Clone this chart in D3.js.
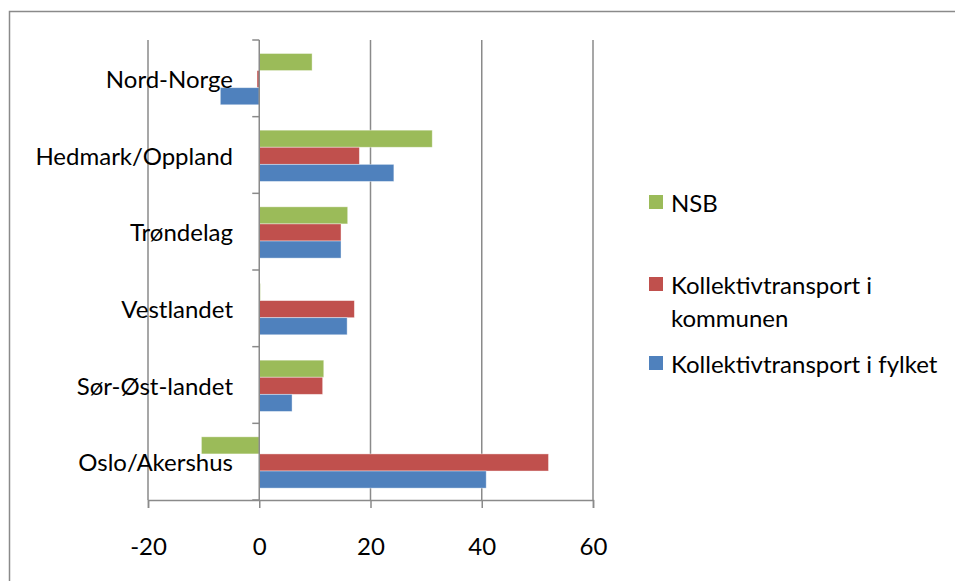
<!DOCTYPE html>
<html>
<head>
<meta charset="utf-8">
<script src="https://cdn.jsdelivr.net/npm/d3@7"></script>
<style>
  html, body { margin: 0; padding: 0; background: #fff; }
  svg { display: block; }
  text { font-family: Lato, "Open Sans", sans-serif; fill: #000; }
</style>
</head>
<body>
<svg id="chart" width="955" height="581"></svg>
<script>
const categories = ["Nord-Norge", "Hedmark/Oppland", "Trøndelag", "Vestlandet", "Sør-Øst-landet", "Oslo/Akershus"];
const seriesNames = ["NSB", "Kollektivtransport i kommunen", "Kollektivtransport i fylket"];
const nsb      = [9.5, 31.1, 15.9, 0.2, 11.6, -10.4];
const kommunen = [-0.4, 18.0, 14.7, 17.1, 11.4, 52.0];
const fylket   = [-7.0, 24.2, 14.7, 15.8, 5.9, 40.8];
const seriesValues = [nsb, kommunen, fylket];
const seriesColors = ["#9BBB59", "#C0504D", "#4F81BD"];
const xTicks = [-20, 0, 20, 40, 60];

const svg = d3.select("#chart");
const fontSize = 24;

// outer border (top/left visible)
svg.append("rect").attr("x", 9.5).attr("y", 11.5).attr("width", 960).attr("height", 590)
  .attr("fill", "none").attr("stroke", "#8a8a8a").attr("stroke-width", 1.5);

const plot = { left: 148, right: 593, top: 40, bottom: 500 };
const x = d3.scaleLinear().domain([-20, 60]).range([plot.left, plot.right]);
const y0 = d3.scaleBand().domain(categories).range([plot.top, plot.bottom]).padding(0);
const bw = y0.bandwidth();
const y1 = d3.scaleBand().domain(seriesNames).range([bw * 0.176, bw * 0.845]).padding(0);

// gridlines
svg.append("g").selectAll("line").data(xTicks.filter(t => t !== 0)).join("line")
  .attr("x1", d => x(d)).attr("x2", d => x(d))
  .attr("y1", plot.top).attr("y2", plot.bottom)
  .attr("stroke", "#8a8a8a").attr("stroke-width", 1.5);

// bars
const groups = svg.append("g").selectAll("g").data(categories).join("g")
  .attr("transform", c => `translate(0,${y0(c)})`);
groups.selectAll("rect").data((c, i) => seriesNames.map((s, j) => ({ s, v: seriesValues[j][i], color: seriesColors[j] })))
  .join("rect")
  .attr("x", d => x(Math.min(0, d.v)))
  .attr("width", d => Math.abs(x(d.v) - x(0)))
  .attr("y", d => y1(d.s))
  .attr("height", y1.bandwidth())
  .attr("fill", d => d.color)
  .attr("stroke", "rgba(255,255,255,0.5)").attr("stroke-width", 0.8);

// category axis at x=0
const yAxisG = svg.append("g").attr("transform", `translate(${x(0)},0)`);
yAxisG.append("line").attr("x1", 0).attr("x2", 0).attr("y1", plot.top).attr("y2", plot.bottom)
  .attr("stroke", "#8a8a8a").attr("stroke-width", 1.5);
const boundaries = categories.map(c => y0(c)).concat([plot.bottom]);
yAxisG.selectAll("line.tk").data(boundaries).join("line").attr("class", "tk")
  .attr("x1", -7).attr("x2", 0).attr("y1", d => d).attr("y2", d => d)
  .attr("stroke", "#8a8a8a").attr("stroke-width", 1.5);

// category labels
svg.append("g").selectAll("text").data(categories).join("text")
  .attr("x", 233).attr("y", c => y0(c) + bw / 2)
  .attr("text-anchor", "end").attr("dominant-baseline", "central")
  .style("font-size", fontSize + "px")
  .text(d => d);

// x axis
const xAxis = d3.axisBottom(x).tickValues(xTicks).tickSize(8).tickFormat(d => String(d));
const xg = svg.append("g").attr("transform", `translate(0,${plot.bottom})`).call(xAxis);
xg.select(".domain").attr("stroke", "#8a8a8a").attr("stroke-width", 1.5);
xg.selectAll(".tick line").attr("stroke", "#8a8a8a").attr("stroke-width", 1.5);
xg.selectAll(".tick text").attr("y", 45).attr("dy", "0").attr("dominant-baseline", "central")
  .style("font-size", fontSize + "px").style("font-family", "Lato, sans-serif").attr("fill", "#000");

// legend
const legendItems = [
  { lines: ["NSB"], color: seriesColors[0], y: 202 },
  { lines: ["Kollektivtransport i", "kommunen"], color: seriesColors[1], y: 284 },
  { lines: ["Kollektivtransport i fylket"], color: seriesColors[2], y: 363 }
];
const lg = svg.append("g").selectAll("g").data(legendItems).join("g");
lg.append("rect").attr("x", 649).attr("y", d => d.y - 7).attr("width", 14).attr("height", 14).attr("fill", d => d.color);
lg.each(function(d) {
  const g = d3.select(this);
  d.lines.forEach((ln, i) => {
    g.append("text").attr("x", 671).attr("y", d.y + i * 33)
      .attr("dominant-baseline", "central").style("font-size", fontSize + "px").text(ln);
  });
});
</script>
</body>
</html>
